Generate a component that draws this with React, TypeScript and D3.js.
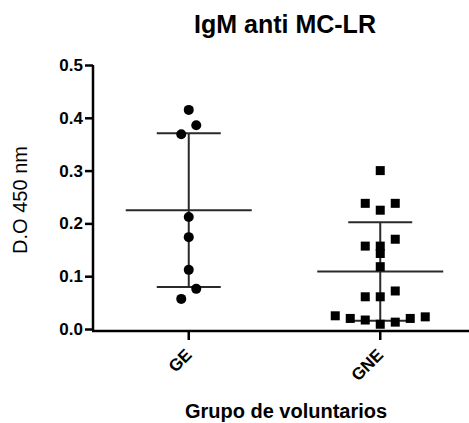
import React, { useEffect, useRef } from "react";
import * as d3 from "d3";

const TITLE = "IgM anti MC-LR";
const Y_LABEL = "D.O 450 nm";
const X_LABEL = "Grupo de voluntarios";
const CATEGORIES = ["GE", "GNE"];
const Y_TICKS = [0, 0.1, 0.2, 0.3, 0.4, 0.5];
// individual readings per group (order inside a row = left to right)
const GE_VALUES = [0.415, 0.369, 0.386, 0.212, 0.174, 0.112, 0.057, 0.076];
const GNE_VALUES = [
	0.3, 0.238, 0.225, 0.238, 0.157, 0.157, 0.17, 0.143, 0.118, 0.061, 0.061,
	0.072, 0.025, 0.02, 0.017, 0.009, 0.013, 0.02, 0.023
];

const WIDTH = 469;
const HEIGHT = 423;
const FONT = "'Liberation Sans', Arial, sans-serif";

export default function App() {
	const ref = useRef<SVGSVGElement>(null);

	useEffect(() => {
		const svg = d3.select(ref.current);
		svg.selectAll("*").remove();

		const groups = [GE_VALUES, GNE_VALUES];
		const x = d3.scaleBand().domain(CATEGORIES).range([93, 476]).padding(0);
		const y = d3.scaleLinear().domain([0, 0.5]).range([329, 65]);

		// error bars (mean +/- SD)
		groups.forEach((vals, i) => {
			const cx = x(CATEGORIES[i])! + x.bandwidth() / 2;
			const m = d3.mean(vals)!;
			const sd = d3.deviation(vals)!;
			const g = svg.append("g").attr("stroke", "#2a2a2a").attr("stroke-width", 2);
			g.append("line").attr("x1", cx).attr("x2", cx).attr("y1", y(m - sd)).attr("y2", y(m + sd));
			g.append("line").attr("x1", cx - 63).attr("x2", cx + 63).attr("y1", y(m)).attr("y2", y(m));
			[m - sd, m + sd].forEach((v) => {
				g.append("line").attr("x1", cx - 32).attr("x2", cx + 32).attr("y1", y(v)).attr("y2", y(v));
			});
		});

		// spread points that share a row
		const spread = (vals: number[]) => {
			const idx = vals.map((v, i) => i).sort((a, b) => vals[b] - vals[a] || a - b);
			const offs: number[] = new Array(vals.length).fill(0);
			let row: number[] = [];
			const flush = () => {
				row.sort((a, b) => a - b);
				row.forEach((k, j) => (offs[k] = (j - (row.length - 1) / 2) * 15));
				row = [];
			};
			idx.forEach((k) => {
				if (row.length && y(vals[k]) - y(vals[row[0]]) > 12) flush();
				row.push(k);
			});
			flush();
			return offs;
		};

		const geX = x("GE")! + x.bandwidth() / 2;
		const geOff = spread(GE_VALUES);
		svg
			.append("g")
			.selectAll("circle")
			.data(GE_VALUES)
			.enter()
			.append("circle")
			.attr("cx", (d, i) => geX + geOff[i])
			.attr("cy", (d) => y(d))
			.attr("r", 5)
			.attr("fill", "#000");

		const gneX = x("GNE")! + x.bandwidth() / 2;
		const gneOff = spread(GNE_VALUES);
		svg
			.append("g")
			.selectAll("rect")
			.data(GNE_VALUES)
			.enter()
			.append("rect")
			.attr("x", (d, i) => gneX + gneOff[i] - 4.5)
			.attr("y", (d) => y(d) - 4.5)
			.attr("width", 9)
			.attr("height", 9)
			.attr("fill", "#000");

		// y axis
		const yAxis = svg
			.append("g")
			.attr("transform", "translate(93,0)")
			.call(d3.axisLeft(y).tickValues(Y_TICKS).tickFormat(d3.format(".1f")).tickSize(8).tickPadding(2));
		yAxis.select(".domain").attr("stroke", "#000").attr("stroke-width", 2.5).attr("d", "M0,65V331");
		yAxis.selectAll(".tick line").attr("stroke-width", 2.5);
		yAxis
			.selectAll("text")
			.style("font-family", FONT)
			.style("font-weight", "bold")
			.style("font-size", "17px")
			.attr("fill", "#000");

		// x axis
		const xAxis = svg
			.append("g")
			.attr("transform", "translate(0,331)")
			.call(d3.axisBottom(x).tickSize(9).tickSizeOuter(0));
		xAxis.select(".domain").attr("stroke", "#000").attr("stroke-width", 2.5).attr("d", "M92,0H476");
		xAxis.selectAll(".tick line").attr("stroke-width", 2.5);
		xAxis
			.selectAll("text")
			.style("font-family", FONT)
			.style("font-weight", "bold")
			.style("font-size", "17px")
			.attr("fill", "#000")
			.attr("text-anchor", "end")
			.attr("dy", "0")
			.attr("y", 0)
			.attr("transform", "translate(4,25) rotate(-45)");

		svg
			.append("text")
			.attr("x", 285)
			.attr("y", 33)
			.attr("text-anchor", "middle")
			.style("font-family", FONT)
			.style("font-weight", "bold")
			.style("font-size", "25px")
			.text(TITLE);

		svg
			.append("text")
			.attr("transform", "translate(27,200) rotate(-90)")
			.attr("text-anchor", "middle")
			.style("font-family", FONT)
			.style("font-size", "20px")
			.text(Y_LABEL);

		svg
			.append("text")
			.attr("x", 286)
			.attr("y", 418)
			.attr("text-anchor", "middle")
			.style("font-family", FONT)
			.style("font-weight", "bold")
			.style("font-size", "20px")
			.text(X_LABEL);
	}, []);

	return (
		<svg
			ref={ref}
			width={WIDTH}
			height={HEIGHT}
			style={{ position: "absolute", left: 0, top: 0, background: "#fff" }}
		></svg>
	);
}
